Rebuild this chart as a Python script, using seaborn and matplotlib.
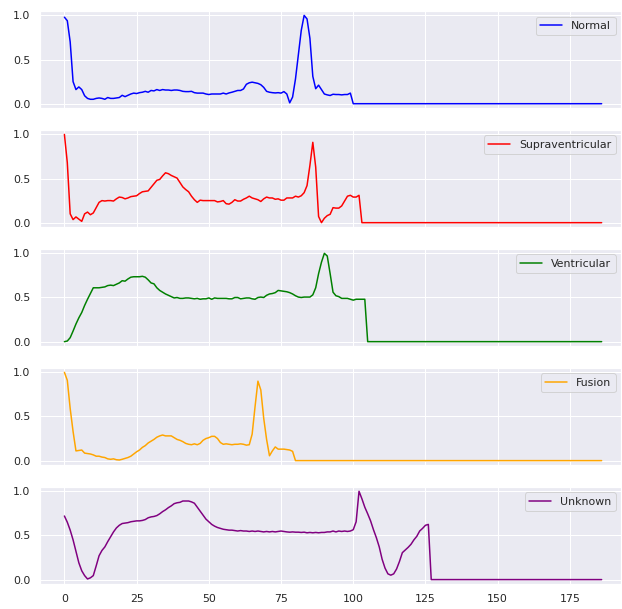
import numpy as np
import pandas as pd
import seaborn as sns
import matplotlib
matplotlib.use("Agg")
import matplotlib.pyplot as plt

N_POINTS = 187

normal = [0.98,0.94,0.70,0.25,0.16,0.19,0.16,0.09,0.06,0.05,
          0.05,0.06,0.065,0.06,0.05,0.07,0.06,0.06,0.065,0.07,
          0.095,0.08,0.095,0.11,0.12,0.115,0.125,0.13,0.14,0.13,
          0.15,0.145,0.16,0.15,0.16,0.155,0.155,0.15,0.155,0.155,
          0.15,0.14,0.137,0.137,0.14,0.125,0.12,0.12,0.12,0.11,
          0.104,0.11,0.11,0.11,0.11,0.12,0.11,0.122,0.13,0.14,
          0.15,0.15,0.167,0.22,0.237,0.244,0.237,0.23,0.215,0.185,
          0.14,0.13,0.125,0.122,0.125,0.12,0.137,0.11,0.01,0.075,
          0.28,0.56,0.83,1.0,0.96,0.74,0.31,0.17,0.21,0.16,
          0.11,0.10,0.093,0.107,0.104,0.104,0.10,0.104,0.104,0.12]

supraventricular = [1.0,0.68,0.10,0.035,0.065,0.04,0.015,0.10,0.12,0.09,
          0.11,0.17,0.23,0.25,0.245,0.25,0.25,0.245,0.27,0.29,
          0.285,0.27,0.28,0.295,0.30,0.305,0.33,0.35,0.355,0.36,
          0.40,0.44,0.48,0.49,0.53,0.565,0.555,0.535,0.52,0.505,
          0.455,0.405,0.375,0.35,0.30,0.26,0.23,0.255,0.25,0.25,
          0.25,0.25,0.25,0.235,0.24,0.25,0.215,0.21,0.23,0.26,
          0.245,0.245,0.265,0.28,0.30,0.28,0.27,0.26,0.24,0.27,
          0.29,0.28,0.28,0.265,0.27,0.255,0.255,0.28,0.28,0.28,
          0.30,0.29,0.305,0.34,0.42,0.65,0.91,0.63,0.07,0.0,
          0.05,0.08,0.095,0.17,0.165,0.165,0.19,0.245,0.30,0.31,
          0.29,0.29,0.31]

ventricular = [0.0,0.007,0.045,0.12,0.20,0.27,0.33,0.41,0.48,0.545,
          0.61,0.61,0.61,0.615,0.62,0.635,0.64,0.635,0.65,0.665,
          0.69,0.685,0.71,0.73,0.735,0.735,0.735,0.74,0.73,0.70,
          0.665,0.655,0.61,0.58,0.56,0.54,0.525,0.51,0.495,0.50,
          0.49,0.49,0.495,0.495,0.49,0.485,0.49,0.48,0.485,0.485,
          0.495,0.48,0.495,0.49,0.49,0.49,0.49,0.485,0.485,0.50,
          0.50,0.485,0.49,0.495,0.495,0.485,0.48,0.50,0.505,0.50,
          0.525,0.54,0.545,0.555,0.58,0.575,0.57,0.565,0.555,0.54,
          0.52,0.505,0.50,0.505,0.505,0.505,0.53,0.61,0.77,0.90,
          1.0,0.97,0.77,0.56,0.52,0.51,0.49,0.49,0.49,0.48,
          0.47,0.48,0.48,0.48,0.48]

fusion = [1.0,0.91,0.59,0.33,0.11,0.115,0.12,0.085,0.08,0.075,
          0.065,0.05,0.05,0.04,0.035,0.02,0.015,0.02,0.01,0.007,
          0.015,0.025,0.035,0.05,0.075,0.10,0.12,0.15,0.17,0.20,
          0.22,0.24,0.265,0.28,0.29,0.28,0.28,0.28,0.26,0.24,
          0.23,0.215,0.195,0.185,0.18,0.19,0.18,0.195,0.23,0.25,
          0.26,0.275,0.275,0.25,0.205,0.185,0.19,0.185,0.18,0.185,
          0.185,0.19,0.185,0.175,0.18,0.30,0.61,0.90,0.80,0.48,
          0.24,0.055,0.11,0.155,0.13,0.13,0.13,0.125,0.12,0.105]

unknown = [0.72,0.65,0.56,0.45,0.32,0.19,0.10,0.045,0.007,0.02,
          0.045,0.155,0.27,0.33,0.37,0.43,0.485,0.54,0.585,0.615,
          0.635,0.64,0.645,0.655,0.66,0.665,0.665,0.67,0.68,0.70,
          0.71,0.715,0.725,0.745,0.77,0.79,0.815,0.835,0.86,0.87,
          0.875,0.89,0.89,0.89,0.88,0.865,0.82,0.775,0.73,0.685,
          0.655,0.625,0.605,0.59,0.58,0.57,0.565,0.56,0.56,0.555,
          0.55,0.555,0.55,0.55,0.545,0.55,0.545,0.55,0.545,0.54,
          0.545,0.54,0.545,0.54,0.545,0.55,0.545,0.54,0.537,0.54,
          0.537,0.537,0.534,0.537,0.53,0.534,0.53,0.534,0.53,0.534,
          0.534,0.54,0.54,0.55,0.54,0.55,0.545,0.55,0.545,0.55,
          0.565,0.655,1.0,0.915,0.82,0.745,0.665,0.565,0.475,0.37,
          0.23,0.13,0.065,0.05,0.065,0.12,0.205,0.305,0.335,0.365,
          0.40,0.45,0.49,0.55,0.58,0.615,0.625]

labels = ["Normal", "Supraventricular", "Ventricular", "Fusion", "Unknown"]
colors = ["blue", "red", "green", "orange", "purple"]
series = [normal, supraventricular, ventricular, fusion, unknown]

sns.set_theme(style="darkgrid")

fig, axes = plt.subplots(5, 1, figsize=(622 / 72, 609 / 72), dpi=72, sharex=True)
fig.subplots_adjust(left=40 / 622, right=621 / 622, top=1 - 11 / 609,
                    bottom=1 - 584 / 609, hspace=0.225)

for ax, vals, lab, col in zip(axes, series, labels, colors):
    padded = list(vals) + [0.0] * (N_POINTS - len(vals))
    df = pd.DataFrame({"t": np.arange(N_POINTS), "v": padded})
    sns.lineplot(data=df, x="t", y="v", ax=ax, color=col, label=lab, linewidth=1.5)
    ax.set_xlabel("")
    ax.set_ylabel("")
    ax.set_yticks([0.0, 0.5, 1.0])
    ax.set_ylim(-0.05, 1.05)
    ax.legend(loc="upper right")

axes[-1].set_xlim(-8.45, 192.7)
axes[-1].set_xticks([0, 25, 50, 75, 100, 125, 150, 175])

fig.savefig("out.png", dpi=72)
